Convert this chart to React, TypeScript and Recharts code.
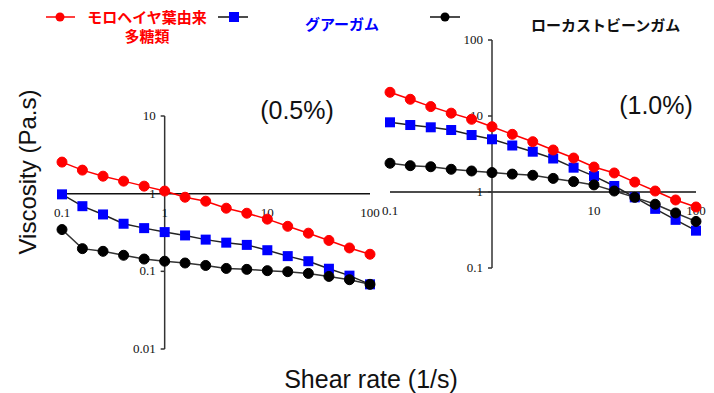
import React from "react";
import { LineChart, Line, XAxis, YAxis, ReferenceLine, ReferenceDot } from "recharts";

// shear rates (1/s), 5 points per decade
const shearRates = [0.1, 0.158, 0.251, 0.398, 0.631, 1, 1.58, 2.51, 3.98, 6.31, 10, 15.8, 25.1, 39.8, 63.1, 100];

// 0.5% solutions
const moro05 = [2.55, 2.01, 1.68, 1.45, 1.25, 1.08, 0.9, 0.8, 0.65, 0.56, 0.47, 0.38, 0.31, 0.25, 0.2, 0.166];
const guar05 = [0.98, 0.69, 0.54, 0.41, 0.36, 0.32, 0.29, 0.256, 0.234, 0.219, 0.187, 0.157, 0.135, 0.108, 0.088, 0.068];
const lbg05 = [0.345, 0.196, 0.181, 0.161, 0.144, 0.135, 0.128, 0.119, 0.109, 0.106, 0.102, 0.099, 0.094, 0.086, 0.078, 0.068];

// 1.0% solutions
const moro10 = [20.5, 16.6, 13.3, 10.9, 9.05, 7.23, 5.74, 4.59, 3.57, 2.8, 2.13, 1.78, 1.35, 1.03, 0.785, 0.635];
const guar10 = [8.26, 7.61, 7.1, 6.54, 5.62, 4.94, 4.09, 3.39, 2.76, 2.09, 1.62, 1.2, 0.85, 0.6, 0.43, 0.31];
const lbg10 = [2.39, 2.22, 2.15, 1.99, 1.89, 1.8, 1.72, 1.66, 1.51, 1.37, 1.24, 1.03, 0.85, 0.69, 0.53, 0.41];

const xTicks05 = [0.1, 1, 10, 100];
const yTicks05 = [0.01, 0.1, 1, 10];
const xTicks10 = [0.1, 10, 100];
const yTicks10 = [0.1, 1, 10, 100];

const seriesNames = ["モロヘイヤ葉由来多糖類", "グアーガム", "ローカストビーンガム"];

const data05 = shearRates.map((x, i) => ({ x, moro: moro05[i], guar: guar05[i], lbg: lbg05[i] }));
const data10 = shearRates.map((x, i) => ({ x, moro: moro10[i], guar: guar10[i], lbg: lbg10[i] }));

const tickFont = { fontFamily: "'Liberation Serif', serif", fontSize: 13, fill: "#111" };

const xTickShape = (label: string) => (props: any) => (
  <text x={props.cx} y={props.cy + 23} textAnchor="middle" {...tickFont}>
    {label}
  </text>
);

const yTickShape = (label: string) => (props: any) => (
  <g>
    <line x1={props.cx - 4} y1={props.cy} x2={props.cx} y2={props.cy} stroke="#333" strokeWidth={1.5} />
    <text x={props.cx - 9} y={props.cy + 4} textAnchor="end" {...tickFont}>
      {label}
    </text>
  </g>
);

const squareDot = (props: any) => {
  const { cx, cy, index } = props;
  if (cx == null || cy == null) return <g key={index} />;
  return <rect key={index} x={cx - 5} y={cy - 5} width={10} height={10} fill="#0000ff" />;
};

type PanelProps = {
  data: typeof data05;
  yDomain: [number, number];
  xTicks: number[];
  yTicks: number[];
  width: number;
  height: number;
  margin: { top: number; right: number; bottom: number; left: number };
};

const Panel = ({ data, yDomain, xTicks, yTicks, width, height, margin }: PanelProps) => (
  <LineChart width={width} height={height} data={data} margin={margin}>
    <XAxis dataKey="x" type="number" scale="log" domain={[0.1, 100]} hide />
    <YAxis type="number" scale="log" domain={yDomain} hide allowDataOverflow />
    <ReferenceLine y={1} stroke="#111" strokeWidth={1.5} />
    <ReferenceLine x={1} stroke="#333" strokeWidth={1.5} />
    {xTicks.map((v) => (
      <ReferenceDot key={"x" + v} x={v} y={1} r={0} shape={xTickShape(String(v))} />
    ))}
    {yTicks.map((v) => (
      <ReferenceDot key={"y" + v} x={1} y={v} r={0} shape={yTickShape(String(v))} />
    ))}
    <Line
      dataKey="guar"
      stroke="#222"
      strokeWidth={1.5}
      dot={squareDot}
      isAnimationActive={false}
    />
    <Line
      dataKey="lbg"
      stroke="#333"
      strokeWidth={1.5}
      dot={{ r: 5, fill: "#000", stroke: "#000", strokeWidth: 1 }}
      isAnimationActive={false}
    />
    <Line
      dataKey="moro"
      stroke="#ff0000"
      strokeWidth={1.5}
      dot={{ r: 5, fill: "#ff0000", stroke: "#ff0000", strokeWidth: 1 }}
      isAnimationActive={false}
    />
  </LineChart>
);

const jp = { fontFamily: "'Noto Sans CJK JP', sans-serif", fontSize: 15, fontWeight: 700 };
const sans = { fontFamily: "'Liberation Sans', Arial, sans-serif", color: "#111" };

export default function App() {
  return (
    <div style={{ position: "absolute", left: 0, top: 0, width: 714, height: 393, background: "#fff", overflow: "hidden" }}>
      {/* legend */}
      <svg style={{ position: "absolute", left: 0, top: 0 }} width={714} height={30}>
        <line x1={46} y1={17} x2={75} y2={17} stroke="#ff0000" strokeWidth={1.5} />
        <circle cx={60} cy={17} r={4.5} fill="#ff0000" />
        <line x1={218} y1={17} x2={248} y2={17} stroke="#111" strokeWidth={1.5} />
        <rect x={229} y={12} width={10} height={10} fill="#0000ff" />
        <line x1={430} y1={17} x2={460} y2={17} stroke="#111" strokeWidth={1.5} />
        <circle cx={445} cy={17} r={4.5} fill="#000" />
      </svg>
      <div style={{ ...jp, position: "absolute", left: 82, top: 7, width: 130, textAlign: "center", lineHeight: "19px", color: "#ff0000" }}>
        {seriesNames[0].slice(0, 8)}
        <br />
        {seriesNames[0].slice(8)}
      </div>
      <div style={{ ...jp, position: "absolute", left: 305, top: 14, lineHeight: "20px", color: "#0000ff" }}>
        {seriesNames[1]}
      </div>
      <div style={{ ...jp, position: "absolute", left: 531, top: 15, lineHeight: "20px", color: "#111" }}>
        {seriesNames[2]}
      </div>

      <div style={{ position: "absolute", left: 50, top: 100 }}>
        <Panel
          data={data05}
          yDomain={[0.01, 10]}
          xTicks={xTicks05}
          yTicks={yTicks05}
          width={340}
          height={270}
          margin={{ top: 16, right: 20, bottom: 21, left: 12 }}
        />
      </div>
      <div style={{ position: "absolute", left: 380, top: 25 }}>
        <Panel
          data={data10}
          yDomain={[0.1, 100]}
          xTicks={xTicks10}
          yTicks={yTicks10}
          width={330}
          height={263}
          margin={{ top: 15, right: 14, bottom: 20, left: 10 }}
        />
      </div>

      <div style={{ ...sans, position: "absolute", left: 240, top: 96, width: 114, textAlign: "center", fontSize: 25, lineHeight: "28px" }}>
        (0.5%)
      </div>
      <div style={{ ...sans, position: "absolute", left: 598, top: 91, width: 116, textAlign: "center", fontSize: 25, lineHeight: "28px" }}>
        (1.0%)
      </div>
      <div style={{ ...sans, position: "absolute", left: 221, top: 366, width: 300, textAlign: "center", fontSize: 25, lineHeight: "26px" }}>
        Shear rate (1/s)
      </div>
      <div
        style={{
          ...sans,
          position: "absolute",
          left: 28 - 120,
          top: 172 - 14,
          width: 240,
          textAlign: "center",
          fontSize: 24,
          lineHeight: "28px",
          transform: "rotate(-90deg)",
        }}
      >
        Viscosity (Pa.s)
      </div>
    </div>
  );
}
